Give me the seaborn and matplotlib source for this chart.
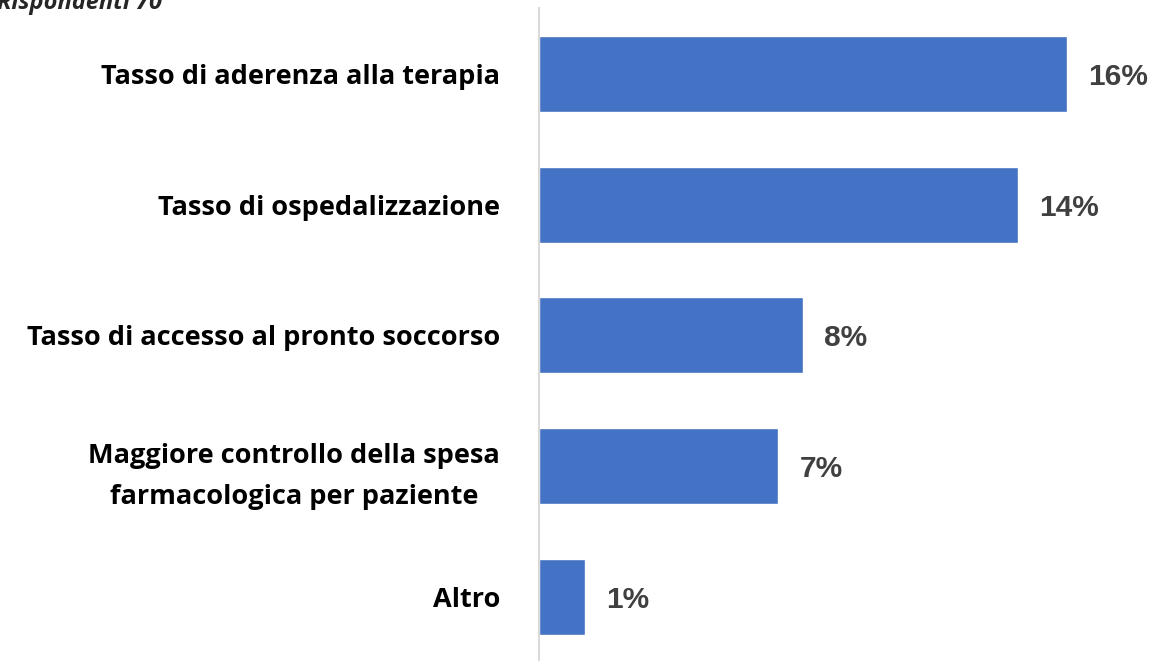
#!/usr/bin/env python3
"""Horizontal bar chart of the survey answers (70 respondents)."""

import matplotlib

matplotlib.use("Agg")
import matplotlib.pyplot as plt
import pandas as pd
import seaborn as sns

CATEGORIES = [
    "Tasso di aderenza alla terapia",
    "Tasso di ospedalizzazione",
    "Tasso di accesso al pronto soccorso",
    "Maggiore controllo della spesa\nfarmacologica per paziente",
    "Altro",
]
# bar lengths (labels are rounded)
VALUES = [16.0, 14.5, 8.0, 7.25, 1.4]
VALUE_LABELS = ["16%", "14%", "8%", "7%", "1%"]
SUBTITLE = "Rispondenti 70"

BAR_COLOR = "#4472C4"


def main() -> None:
    sns.set_theme(style="white")
    df = pd.DataFrame({"categoria": CATEGORIES, "valore": VALUES})

    fig = plt.figure(figsize=(11.53, 6.61), dpi=100)
    ax = fig.add_axes([539 / 1153, 0.0, 1 - 539 / 1153, 1 - 8 / 661])

    sns.barplot(
        data=df, x="valore", y="categoria", color=BAR_COLOR,
        width=0.58, saturation=1, ax=ax,
    )

    for i, (val, lab) in enumerate(zip(VALUES, VALUE_LABELS)):
        ax.text(val + 0.64, i, lab, ha="left", va="center_baseline",
                fontsize=21.5, fontweight="bold", color="#404040",
                family="Liberation Sans")

    ax.set_xlim(0, 18.6)
    ax.set_ylim(4.49, -0.504)
    ax.set_xlabel("")
    ax.set_ylabel("")
    ax.set_xticks([])
    ax.tick_params(axis="y", length=0, pad=28)
    for lab in ax.get_yticklabels():
        lab.set_fontfamily("Open Sans")
        lab.set_fontweight("bold")
        lab.set_fontsize(19.5)
        lab.set_color("black")
        lab.set_multialignment("center")
        lab.set_linespacing(1.75)

    for side in ("top", "right", "bottom"):
        ax.spines[side].set_visible(False)
    ax.spines["left"].set_color("#d9d9d9")
    ax.spines["left"].set_linewidth(1.5)

    fig.text(-0.003, 1 - 3 / 661, SUBTITLE, ha="left", va="center",
             fontsize=17, fontweight="bold", fontstyle="italic",
             family="Open Sans")

    fig.savefig("out.png", dpi=100)


if __name__ == "__main__":
    main()
